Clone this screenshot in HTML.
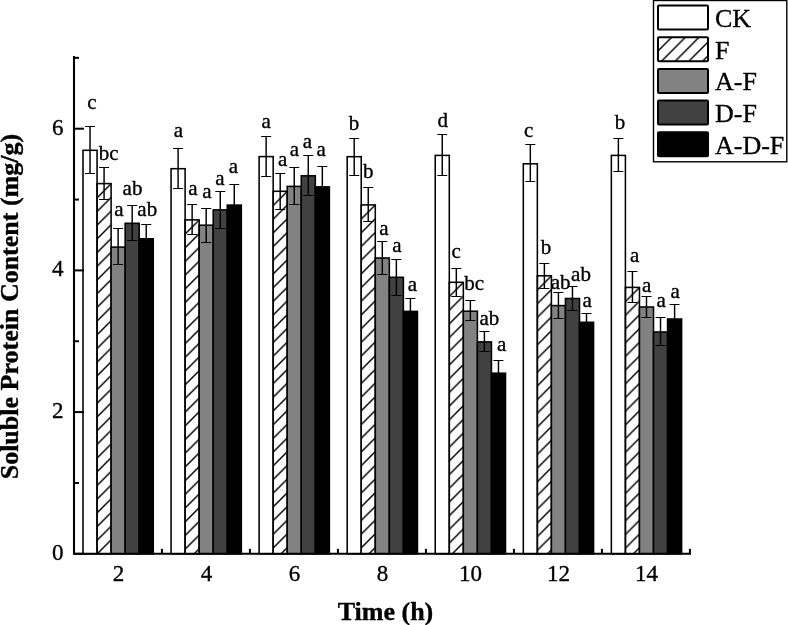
<!DOCTYPE html>
<html><head><meta charset="utf-8"><style>
html,body{margin:0;padding:0;background:#fff;}
body{width:788px;height:625px;overflow:hidden;}
svg{display:block;filter:grayscale(1);}
text{font-family:"Liberation Serif",serif;fill:#000;stroke:#000;stroke-width:0.35px;}
</style></head><body>
<svg width="788" height="625" viewBox="0 0 788 625">
<defs>
<pattern id="h0" patternUnits="userSpaceOnUse" x="97.05" y="184.10" width="13.7" height="13.7"><path d="M-1,14.7 L14.7,-1 M-1,1 L1,-1 M12.7,14.7 L14.7,12.7" stroke="#000" stroke-width="1.45" fill="none"/></pattern>
<pattern id="h1" patternUnits="userSpaceOnUse" x="185.11" y="220.40" width="13.7" height="13.7"><path d="M-1,14.7 L14.7,-1 M-1,1 L1,-1 M12.7,14.7 L14.7,12.7" stroke="#000" stroke-width="1.45" fill="none"/></pattern>
<pattern id="h2" patternUnits="userSpaceOnUse" x="273.17" y="191.80" width="13.7" height="13.7"><path d="M-1,14.7 L14.7,-1 M-1,1 L1,-1 M12.7,14.7 L14.7,12.7" stroke="#000" stroke-width="1.45" fill="none"/></pattern>
<pattern id="h3" patternUnits="userSpaceOnUse" x="361.23" y="205.40" width="13.7" height="13.7"><path d="M-1,14.7 L14.7,-1 M-1,1 L1,-1 M12.7,14.7 L14.7,12.7" stroke="#000" stroke-width="1.45" fill="none"/></pattern>
<pattern id="h4" patternUnits="userSpaceOnUse" x="449.29" y="282.80" width="13.7" height="13.7"><path d="M-1,14.7 L14.7,-1 M-1,1 L1,-1 M12.7,14.7 L14.7,12.7" stroke="#000" stroke-width="1.45" fill="none"/></pattern>
<pattern id="h5" patternUnits="userSpaceOnUse" x="537.35" y="276.30" width="13.7" height="13.7"><path d="M-1,14.7 L14.7,-1 M-1,1 L1,-1 M12.7,14.7 L14.7,12.7" stroke="#000" stroke-width="1.45" fill="none"/></pattern>
<pattern id="h6" patternUnits="userSpaceOnUse" x="625.41" y="287.90" width="13.7" height="13.7"><path d="M-1,14.7 L14.7,-1 M-1,1 L1,-1 M12.7,14.7 L14.7,12.7" stroke="#000" stroke-width="1.45" fill="none"/></pattern>
<pattern id="hl" patternUnits="userSpaceOnUse" x="658.00" y="37.27" width="13.7" height="13.7"><path d="M-1,14.7 L14.7,-1 M-1,1 L1,-1 M12.7,14.7 L14.7,12.7" stroke="#000" stroke-width="1.45" fill="none"/></pattern>
</defs>
<rect x="0" y="0" width="788" height="625" fill="#fff"/>

<rect x="83.00" y="150.30" width="14.05" height="403.50" fill="#ffffff" stroke="#000" stroke-width="1.55"/>
<rect x="97.05" y="183.60" width="14.05" height="370.20" fill="url(#h0)" stroke="#000" stroke-width="1.55"/>
<rect x="111.10" y="247.10" width="14.05" height="306.70" fill="#828282" stroke="#000" stroke-width="1.55"/>
<rect x="125.15" y="223.30" width="14.05" height="330.50" fill="#414141" stroke="#000" stroke-width="1.55"/>
<rect x="139.20" y="238.80" width="14.05" height="315.00" fill="#000000" stroke="#000" stroke-width="1.55"/>
<rect x="171.06" y="168.70" width="14.05" height="385.10" fill="#ffffff" stroke="#000" stroke-width="1.55"/>
<rect x="185.11" y="219.90" width="14.05" height="333.90" fill="url(#h1)" stroke="#000" stroke-width="1.55"/>
<rect x="199.16" y="225.20" width="14.05" height="328.60" fill="#828282" stroke="#000" stroke-width="1.55"/>
<rect x="213.21" y="209.90" width="14.05" height="343.90" fill="#414141" stroke="#000" stroke-width="1.55"/>
<rect x="227.26" y="205.10" width="14.05" height="348.70" fill="#000000" stroke="#000" stroke-width="1.55"/>
<rect x="259.12" y="156.60" width="14.05" height="397.20" fill="#ffffff" stroke="#000" stroke-width="1.55"/>
<rect x="273.17" y="191.30" width="14.05" height="362.50" fill="url(#h2)" stroke="#000" stroke-width="1.55"/>
<rect x="287.22" y="186.40" width="14.05" height="367.40" fill="#828282" stroke="#000" stroke-width="1.55"/>
<rect x="301.27" y="175.80" width="14.05" height="378.00" fill="#414141" stroke="#000" stroke-width="1.55"/>
<rect x="315.32" y="186.90" width="14.05" height="366.90" fill="#000000" stroke="#000" stroke-width="1.55"/>
<rect x="347.18" y="156.70" width="14.05" height="397.10" fill="#ffffff" stroke="#000" stroke-width="1.55"/>
<rect x="361.23" y="204.90" width="14.05" height="348.90" fill="url(#h3)" stroke="#000" stroke-width="1.55"/>
<rect x="375.28" y="258.00" width="14.05" height="295.80" fill="#828282" stroke="#000" stroke-width="1.55"/>
<rect x="389.33" y="277.30" width="14.05" height="276.50" fill="#414141" stroke="#000" stroke-width="1.55"/>
<rect x="403.38" y="311.40" width="14.05" height="242.40" fill="#000000" stroke="#000" stroke-width="1.55"/>
<rect x="435.24" y="155.40" width="14.05" height="398.40" fill="#ffffff" stroke="#000" stroke-width="1.55"/>
<rect x="449.29" y="282.30" width="14.05" height="271.50" fill="url(#h4)" stroke="#000" stroke-width="1.55"/>
<rect x="463.34" y="311.20" width="14.05" height="242.60" fill="#828282" stroke="#000" stroke-width="1.55"/>
<rect x="477.39" y="341.90" width="14.05" height="211.90" fill="#414141" stroke="#000" stroke-width="1.55"/>
<rect x="491.44" y="373.20" width="14.05" height="180.60" fill="#000000" stroke="#000" stroke-width="1.55"/>
<rect x="523.30" y="163.80" width="14.05" height="390.00" fill="#ffffff" stroke="#000" stroke-width="1.55"/>
<rect x="537.35" y="275.80" width="14.05" height="278.00" fill="url(#h5)" stroke="#000" stroke-width="1.55"/>
<rect x="551.40" y="305.60" width="14.05" height="248.20" fill="#828282" stroke="#000" stroke-width="1.55"/>
<rect x="565.45" y="298.50" width="14.05" height="255.30" fill="#414141" stroke="#000" stroke-width="1.55"/>
<rect x="579.50" y="322.30" width="14.05" height="231.50" fill="#000000" stroke="#000" stroke-width="1.55"/>
<rect x="611.36" y="155.40" width="14.05" height="398.40" fill="#ffffff" stroke="#000" stroke-width="1.55"/>
<rect x="625.41" y="287.40" width="14.05" height="266.40" fill="url(#h6)" stroke="#000" stroke-width="1.55"/>
<rect x="639.46" y="307.00" width="14.05" height="246.80" fill="#828282" stroke="#000" stroke-width="1.55"/>
<rect x="653.51" y="332.00" width="14.05" height="221.80" fill="#414141" stroke="#000" stroke-width="1.55"/>
<rect x="667.56" y="319.00" width="14.05" height="234.80" fill="#000000" stroke="#000" stroke-width="1.55"/>
<path d="M90.03,126.50V173.50" stroke="#000" stroke-width="1.45" fill="none"/>
<path d="M85.03,126.50H95.03M85.03,173.50H95.03" stroke="#000" stroke-width="1.1" fill="none"/>
<path d="M104.08,167.50V199.50" stroke="#000" stroke-width="1.45" fill="none"/>
<path d="M99.08,167.50H109.08M99.08,199.50H109.08" stroke="#000" stroke-width="1.1" fill="none"/>
<path d="M118.12,228.50V264.50" stroke="#000" stroke-width="1.45" fill="none"/>
<path d="M113.12,228.50H123.12M113.12,264.50H123.12" stroke="#000" stroke-width="1.1" fill="none"/>
<path d="M132.18,205.50V240.50" stroke="#000" stroke-width="1.45" fill="none"/>
<path d="M127.18,205.50H137.18M127.18,240.50H137.18" stroke="#000" stroke-width="1.1" fill="none"/>
<path d="M146.22,224.50V253.50" stroke="#000" stroke-width="1.45" fill="none"/>
<path d="M141.22,224.50H151.22M141.22,253.50H151.22" stroke="#000" stroke-width="1.1" fill="none"/>
<path d="M178.09,148.50V188.50" stroke="#000" stroke-width="1.45" fill="none"/>
<path d="M173.09,148.50H183.09M173.09,188.50H183.09" stroke="#000" stroke-width="1.1" fill="none"/>
<path d="M192.14,204.50V234.50" stroke="#000" stroke-width="1.45" fill="none"/>
<path d="M187.14,204.50H197.14M187.14,234.50H197.14" stroke="#000" stroke-width="1.1" fill="none"/>
<path d="M206.19,208.50V242.50" stroke="#000" stroke-width="1.45" fill="none"/>
<path d="M201.19,208.50H211.19M201.19,242.50H211.19" stroke="#000" stroke-width="1.1" fill="none"/>
<path d="M220.24,191.50V228.50" stroke="#000" stroke-width="1.45" fill="none"/>
<path d="M215.24,191.50H225.24M215.24,228.50H225.24" stroke="#000" stroke-width="1.1" fill="none"/>
<path d="M234.28,184.50V226.50" stroke="#000" stroke-width="1.45" fill="none"/>
<path d="M229.28,184.50H239.28M229.28,226.50H239.28" stroke="#000" stroke-width="1.1" fill="none"/>
<path d="M266.14,136.50V176.50" stroke="#000" stroke-width="1.45" fill="none"/>
<path d="M261.14,136.50H271.14M261.14,176.50H271.14" stroke="#000" stroke-width="1.1" fill="none"/>
<path d="M280.19,173.50V209.50" stroke="#000" stroke-width="1.45" fill="none"/>
<path d="M275.19,173.50H285.19M275.19,209.50H285.19" stroke="#000" stroke-width="1.1" fill="none"/>
<path d="M294.25,167.50V204.50" stroke="#000" stroke-width="1.45" fill="none"/>
<path d="M289.25,167.50H299.25M289.25,204.50H299.25" stroke="#000" stroke-width="1.1" fill="none"/>
<path d="M308.29,155.50V195.50" stroke="#000" stroke-width="1.45" fill="none"/>
<path d="M303.29,155.50H313.29M303.29,195.50H313.29" stroke="#000" stroke-width="1.1" fill="none"/>
<path d="M322.34,166.50V207.50" stroke="#000" stroke-width="1.45" fill="none"/>
<path d="M317.34,166.50H327.34M317.34,207.50H327.34" stroke="#000" stroke-width="1.1" fill="none"/>
<path d="M354.20,138.50V175.50" stroke="#000" stroke-width="1.45" fill="none"/>
<path d="M349.20,138.50H359.20M349.20,175.50H359.20" stroke="#000" stroke-width="1.1" fill="none"/>
<path d="M368.25,187.50V221.50" stroke="#000" stroke-width="1.45" fill="none"/>
<path d="M363.25,187.50H373.25M363.25,221.50H373.25" stroke="#000" stroke-width="1.1" fill="none"/>
<path d="M382.31,241.50V274.50" stroke="#000" stroke-width="1.45" fill="none"/>
<path d="M377.31,241.50H387.31M377.31,274.50H387.31" stroke="#000" stroke-width="1.1" fill="none"/>
<path d="M396.36,259.50V295.50" stroke="#000" stroke-width="1.45" fill="none"/>
<path d="M391.36,259.50H401.36M391.36,295.50H401.36" stroke="#000" stroke-width="1.1" fill="none"/>
<path d="M410.40,298.50V323.50" stroke="#000" stroke-width="1.45" fill="none"/>
<path d="M405.40,298.50H415.40M405.40,323.50H415.40" stroke="#000" stroke-width="1.1" fill="none"/>
<path d="M442.26,134.50V175.50" stroke="#000" stroke-width="1.45" fill="none"/>
<path d="M437.26,134.50H447.26M437.26,175.50H447.26" stroke="#000" stroke-width="1.1" fill="none"/>
<path d="M456.31,268.50V296.50" stroke="#000" stroke-width="1.45" fill="none"/>
<path d="M451.31,268.50H461.31M451.31,296.50H461.31" stroke="#000" stroke-width="1.1" fill="none"/>
<path d="M470.37,300.50V320.50" stroke="#000" stroke-width="1.45" fill="none"/>
<path d="M465.37,300.50H475.37M465.37,320.50H475.37" stroke="#000" stroke-width="1.1" fill="none"/>
<path d="M484.41,331.50V351.50" stroke="#000" stroke-width="1.45" fill="none"/>
<path d="M479.41,331.50H489.41M479.41,351.50H489.41" stroke="#000" stroke-width="1.1" fill="none"/>
<path d="M498.46,360.50V385.50" stroke="#000" stroke-width="1.45" fill="none"/>
<path d="M493.46,360.50H503.46M493.46,385.50H503.46" stroke="#000" stroke-width="1.1" fill="none"/>
<path d="M530.32,144.50V181.50" stroke="#000" stroke-width="1.45" fill="none"/>
<path d="M525.32,144.50H535.32M525.32,181.50H535.32" stroke="#000" stroke-width="1.1" fill="none"/>
<path d="M544.37,263.50V288.50" stroke="#000" stroke-width="1.45" fill="none"/>
<path d="M539.37,263.50H549.37M539.37,288.50H549.37" stroke="#000" stroke-width="1.1" fill="none"/>
<path d="M558.42,292.50V318.50" stroke="#000" stroke-width="1.45" fill="none"/>
<path d="M553.42,292.50H563.42M553.42,318.50H563.42" stroke="#000" stroke-width="1.1" fill="none"/>
<path d="M572.47,286.50V310.50" stroke="#000" stroke-width="1.45" fill="none"/>
<path d="M567.47,286.50H577.47M567.47,310.50H577.47" stroke="#000" stroke-width="1.1" fill="none"/>
<path d="M586.52,313.50V331.50" stroke="#000" stroke-width="1.45" fill="none"/>
<path d="M581.52,313.50H591.52M581.52,331.50H591.52" stroke="#000" stroke-width="1.1" fill="none"/>
<path d="M618.38,138.50V171.50" stroke="#000" stroke-width="1.45" fill="none"/>
<path d="M613.38,138.50H623.38M613.38,171.50H623.38" stroke="#000" stroke-width="1.1" fill="none"/>
<path d="M632.43,271.50V302.50" stroke="#000" stroke-width="1.45" fill="none"/>
<path d="M627.43,271.50H637.43M627.43,302.50H637.43" stroke="#000" stroke-width="1.1" fill="none"/>
<path d="M646.49,296.50V317.50" stroke="#000" stroke-width="1.45" fill="none"/>
<path d="M641.49,296.50H651.49M641.49,317.50H651.49" stroke="#000" stroke-width="1.1" fill="none"/>
<path d="M660.53,317.50V345.50" stroke="#000" stroke-width="1.45" fill="none"/>
<path d="M655.53,317.50H665.53M655.53,345.50H665.53" stroke="#000" stroke-width="1.1" fill="none"/>
<path d="M674.59,304.50V332.50" stroke="#000" stroke-width="1.45" fill="none"/>
<path d="M669.59,304.50H679.59M669.59,332.50H679.59" stroke="#000" stroke-width="1.1" fill="none"/>
<text x="92.00" y="108.50" font-size="21" text-anchor="middle">c</text>
<text x="108.70" y="160.40" font-size="21" text-anchor="middle">bc</text>
<text x="118.85" y="216.40" font-size="21" text-anchor="middle">a</text>
<text x="132.50" y="194.80" font-size="21" text-anchor="middle">ab</text>
<text x="147.25" y="216.40" font-size="21" text-anchor="middle">ab</text>
<text x="178.30" y="137.00" font-size="21" text-anchor="middle">a</text>
<text x="192.95" y="194.50" font-size="21" text-anchor="middle">a</text>
<text x="206.85" y="197.80" font-size="21" text-anchor="middle">a</text>
<text x="219.80" y="184.50" font-size="21" text-anchor="middle">a</text>
<text x="233.35" y="172.50" font-size="21" text-anchor="middle">a</text>
<text x="266.15" y="128.20" font-size="21" text-anchor="middle">a</text>
<text x="282.60" y="165.80" font-size="21" text-anchor="middle">a</text>
<text x="294.45" y="156.10" font-size="21" text-anchor="middle">a</text>
<text x="307.50" y="147.60" font-size="21" text-anchor="middle">a</text>
<text x="321.15" y="155.70" font-size="21" text-anchor="middle">a</text>
<text x="354.10" y="130.30" font-size="21" text-anchor="middle">b</text>
<text x="368.35" y="177.80" font-size="21" text-anchor="middle">b</text>
<text x="383.85" y="234.90" font-size="21" text-anchor="middle">a</text>
<text x="396.95" y="252.10" font-size="21" text-anchor="middle">a</text>
<text x="412.45" y="290.60" font-size="21" text-anchor="middle">a</text>
<text x="442.80" y="127.10" font-size="21" text-anchor="middle">d</text>
<text x="456.10" y="258.20" font-size="21" text-anchor="middle">c</text>
<text x="474.25" y="289.90" font-size="21" text-anchor="middle">bc</text>
<text x="489.40" y="324.60" font-size="21" text-anchor="middle">ab</text>
<text x="501.60" y="351.10" font-size="21" text-anchor="middle">a</text>
<text x="528.65" y="136.60" font-size="21" text-anchor="middle">c</text>
<text x="546.00" y="253.80" font-size="21" text-anchor="middle">b</text>
<text x="560.60" y="289.30" font-size="21" text-anchor="middle">ab</text>
<text x="581.00" y="281.00" font-size="21" text-anchor="middle">ab</text>
<text x="587.05" y="307.10" font-size="21" text-anchor="middle">a</text>
<text x="619.90" y="129.00" font-size="21" text-anchor="middle">b</text>
<text x="634.60" y="261.60" font-size="21" text-anchor="middle">a</text>
<text x="646.60" y="291.60" font-size="21" text-anchor="middle">a</text>
<text x="661.20" y="307.00" font-size="21" text-anchor="middle">a</text>
<text x="675.20" y="298.40" font-size="21" text-anchor="middle">a</text>
<path d="M74.0,56 V553.8 H691" stroke="#000" stroke-width="2.1" fill="none"/>
<path d="M74.0,553.80H84.0" stroke="#000" stroke-width="2"/>
<path d="M74.0,482.95H79.0" stroke="#000" stroke-width="2"/>
<path d="M74.0,412.10H84.0" stroke="#000" stroke-width="2"/>
<path d="M74.0,341.25H79.0" stroke="#000" stroke-width="2"/>
<path d="M74.0,270.40H84.0" stroke="#000" stroke-width="2"/>
<path d="M74.0,199.55H79.0" stroke="#000" stroke-width="2"/>
<path d="M74.0,128.70H84.0" stroke="#000" stroke-width="2"/>
<path d="M74.0,57.85H79.0" stroke="#000" stroke-width="2"/>
<path d="M161.90,553.8V548.8" stroke="#000" stroke-width="2"/>
<path d="M249.90,553.8V548.8" stroke="#000" stroke-width="2"/>
<path d="M337.90,553.8V548.8" stroke="#000" stroke-width="2"/>
<path d="M425.90,553.8V548.8" stroke="#000" stroke-width="2"/>
<path d="M513.90,553.8V548.8" stroke="#000" stroke-width="2"/>
<path d="M601.90,553.8V548.8" stroke="#000" stroke-width="2"/>
<path d="M689.90,553.8V548.8" stroke="#000" stroke-width="2"/>
<text x="63.5" y="559.80" font-size="23" text-anchor="end">0</text>
<text x="63.5" y="418.10" font-size="23" text-anchor="end">2</text>
<text x="63.5" y="276.40" font-size="23" text-anchor="end">4</text>
<text x="63.5" y="134.70" font-size="23" text-anchor="end">6</text>
<text x="118.40" y="581" font-size="23" text-anchor="middle">2</text>
<text x="206.40" y="581" font-size="23" text-anchor="middle">4</text>
<text x="294.40" y="581" font-size="23" text-anchor="middle">6</text>
<text x="382.40" y="581" font-size="23" text-anchor="middle">8</text>
<text x="470.40" y="581" font-size="23" text-anchor="middle">10</text>
<text x="558.40" y="581" font-size="23" text-anchor="middle">12</text>
<text x="646.40" y="581" font-size="23" text-anchor="middle">14</text>
<text x="385.5" y="619.6" font-size="26" font-weight="bold" text-anchor="middle">Time (h)</text>
<text transform="translate(17.6,306.6) rotate(-90)" x="0" y="0" font-size="26" font-weight="bold" text-anchor="middle">Soluble Protein Content (mg/g)</text>
<rect x="653.5" y="0.5" width="133.3" height="161.3" fill="#fff" stroke="#000" stroke-width="1.4"/>
<rect x="658" y="5.60" width="50" height="24" rx="1" fill="#ffffff" stroke="#000" stroke-width="2"/>
<text x="715" y="27.10" font-size="26">CK</text>
<rect x="658" y="37.27" width="50" height="24" rx="1" fill="url(#hl)" stroke="#000" stroke-width="2"/>
<text x="715" y="58.70" font-size="26">F</text>
<rect x="658" y="68.94" width="50" height="24" rx="1" fill="#828282" stroke="#000" stroke-width="2"/>
<text x="715" y="90.30" font-size="26">A-F</text>
<rect x="658" y="100.61" width="50" height="24" rx="1" fill="#414141" stroke="#000" stroke-width="2"/>
<text x="715" y="121.90" font-size="26">D-F</text>
<rect x="658" y="132.28" width="50" height="24" rx="1" fill="#000000" stroke="#000" stroke-width="2"/>
<text x="715" y="153.50" font-size="26">A-D-F</text>
</svg>
</body></html>
